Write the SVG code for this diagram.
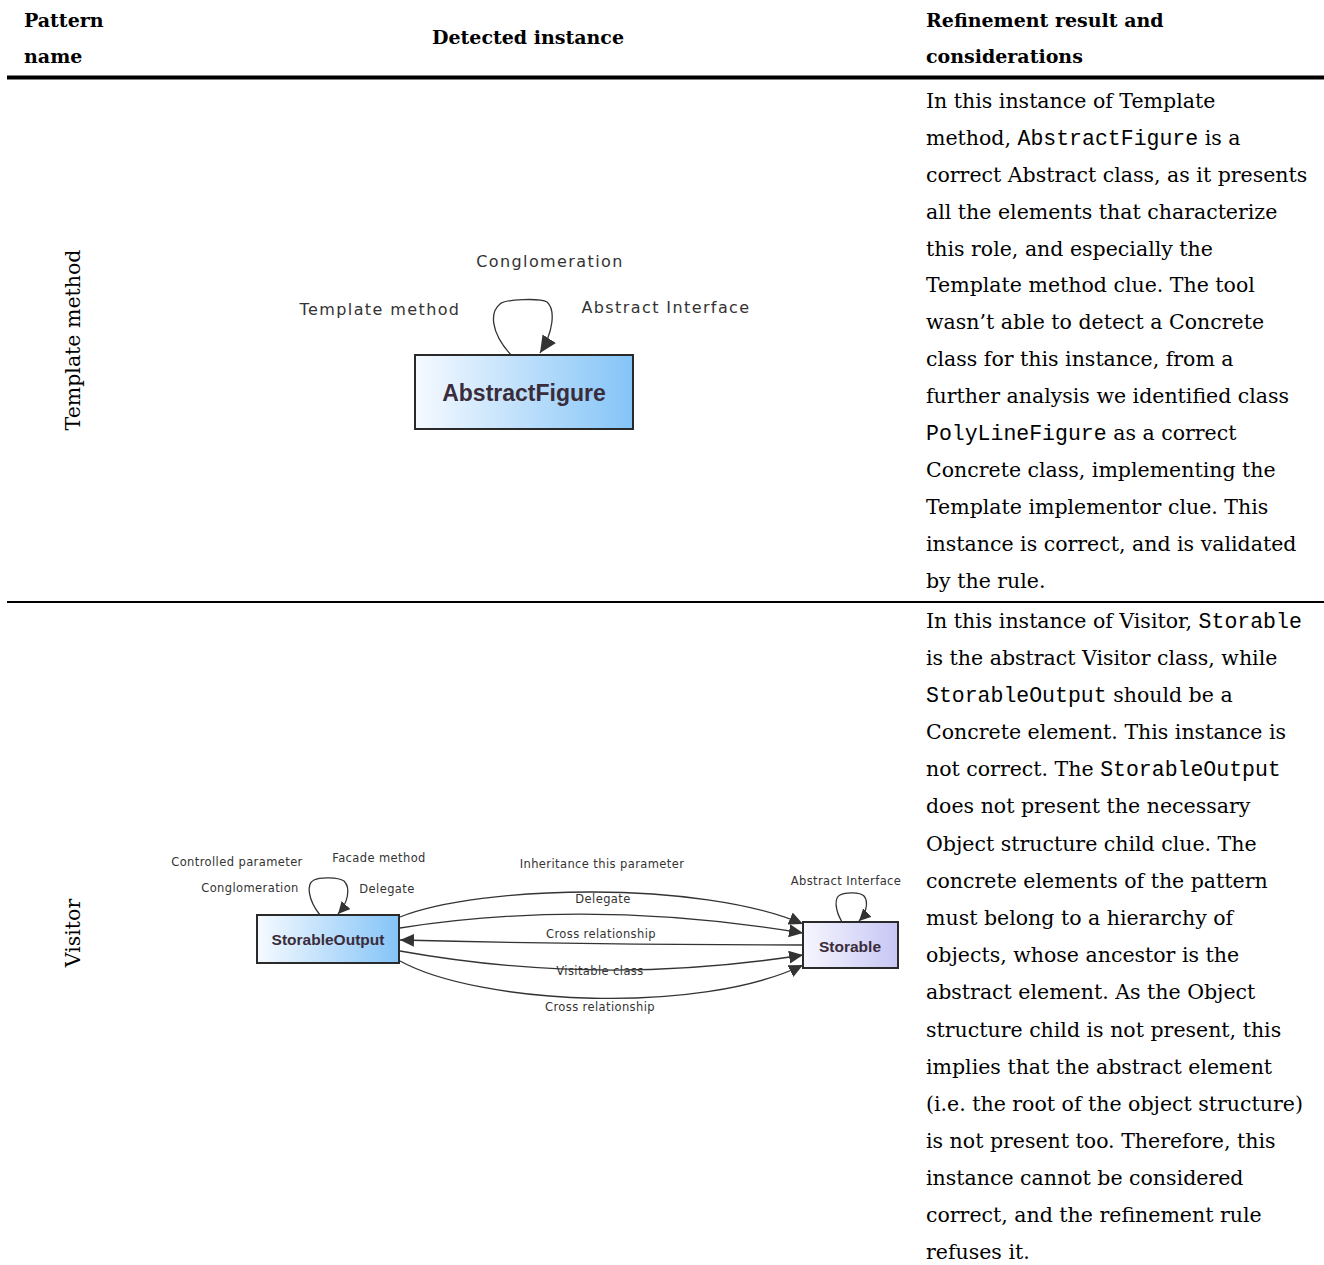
<svg xmlns="http://www.w3.org/2000/svg" width="1324" height="1265" viewBox="0 0 1324 1265">
  <defs>
    <linearGradient id="gBlue" x1="0" y1="0" x2="1" y2="0">
      <stop offset="0" stop-color="#f6faff"/>
      <stop offset="1" stop-color="#84c4f7"/>
    </linearGradient>
    <linearGradient id="gLav" x1="0" y1="0" x2="1" y2="0">
      <stop offset="0" stop-color="#f6f6ff"/>
      <stop offset="1" stop-color="#c6c6f4"/>
    </linearGradient>
    <marker id="arrowBig" markerUnits="userSpaceOnUse" markerWidth="18" markerHeight="16" refX="17" refY="8" orient="auto">
      <path d="M0,0 L17,8 L0,16 z" fill="#333"/>
    </marker>
    <marker id="arrow" markerUnits="userSpaceOnUse" markerWidth="15" markerHeight="13" refX="14" refY="6.5" orient="auto">
      <path d="M0,0 L14,6.5 L0,13 z" fill="#333"/>
    </marker>
    <marker id="arrowLoop" markerUnits="userSpaceOnUse" markerWidth="13" markerHeight="12" refX="12" refY="6" orient="auto">
      <path d="M0,0 L12,6 L0,12 z" fill="#333"/>
    </marker>
  </defs>
  <style>
    .hdr { font-family: "DejaVu Serif", "Liberation Serif", serif; font-weight: bold; font-size: 19px; fill: #000; }
    .body { font-family: "DejaVu Serif", "Liberation Serif", serif; font-size: 20.5px; fill: #000; }
    .mono { font-family: "Liberation Mono", "DejaVu Sans Mono", monospace; font-size: 21.5px; }
    .rowname { font-family: "DejaVu Serif", "Liberation Serif", serif; font-size: 20.5px; fill: #000; }
    .lblBig { font-family: "DejaVu Sans", "Liberation Sans", sans-serif; font-size: 16px; letter-spacing: 1.4px; fill: #333; text-anchor: middle; }
    .lbl { font-family: "DejaVu Sans", "Liberation Sans", sans-serif; font-size: 11.5px; letter-spacing: 0.4px; fill: #333; text-anchor: middle; }
    .edge { fill: none; stroke: #333; stroke-width: 1.3; }
    .box { stroke: #2a2a2a; stroke-width: 2; }
    .cls { font-family: "Liberation Sans", "Arial", sans-serif; font-weight: bold; fill: #3a2c3a; text-anchor: middle; }
  </style>

  <!-- table header -->
  <g id="header">
    <text class="hdr" x="24" y="27">Pattern</text>
    <text class="hdr" x="24" y="63">name</text>
    <text class="hdr" x="528" y="44" text-anchor="middle">Detected instance</text>
    <text class="hdr" x="926" y="27">Refinement result and</text>
    <text class="hdr" x="926" y="63">considerations</text>
  </g>
  <rect x="7" y="75.5" width="1317" height="4" fill="#000"/>
  <rect x="7" y="601" width="1317" height="2" fill="#000"/>

  <!-- row names -->
  <text class="rowname" text-anchor="middle" transform="translate(80,340) rotate(-90)">Template method</text>
  <text class="rowname" text-anchor="middle" transform="translate(80,933) rotate(-90)">Visitor</text>

  <!-- Template method diagram -->
  <g id="node-abstractfigure">
    <rect class="box" x="415" y="355" width="218" height="74" fill="url(#gBlue)"/>
    <text class="cls" x="524" y="401" font-size="23">AbstractFigure</text>
  </g>

  <!-- Visitor diagram -->
  <g id="node-storableoutput">
    <rect class="box" x="257" y="915" width="142" height="48" fill="url(#gBlue)"/>
    <text class="cls" x="328" y="945" font-size="15.5">StorableOutput</text>
  </g>
  <g id="node-storable">
    <rect class="box" x="803" y="922" width="95" height="46" fill="url(#gLav)"/>
    <text class="cls" x="850" y="952" font-size="15.5">Storable</text>
  </g>

  <g id="connectors">
    <!-- AbstractFigure self relation -->
    <path class="edge" d="M 511 355 C 490 332, 490 312, 500 304 C 506 299, 540 298, 547 302 C 556 310, 553 333, 540 353" stroke-width="1.6" marker-end="url(#arrowBig)"/>
    <!-- StorableOutput self relation -->
    <path class="edge" d="M 320 915 C 308 900, 306 884, 314 880 C 320 877, 338 877, 344 881 C 351 888, 348 903, 338 914" marker-end="url(#arrowLoop)"/>
    <!-- Storable self relation -->
    <path class="edge" d="M 842 922 C 835 910, 834 898, 840 895 C 846 892, 860 892, 864 896 C 869 902, 866 914, 859 921" marker-end="url(#arrowLoop)"/>
    <!-- StorableOutput <-> Storable -->
    <path class="edge" d="M 400 917 C 480 885, 700 880, 803 924" marker-end="url(#arrow)"/>
    <path class="edge" d="M 400 928 Q 590 898, 803 933" marker-end="url(#arrow)"/>
    <path class="edge" d="M 803 945 Q 600 945, 400 940" marker-end="url(#arrow)"/>
    <path class="edge" d="M 400 951 Q 600 987, 803 955" marker-end="url(#arrow)"/>
    <path class="edge" d="M 400 961 C 480 1005, 700 1015, 803 965" marker-end="url(#arrow)"/>
  </g>

  <g id="edge-labels">
    <text class="lblBig" x="550" y="267">Conglomeration</text>
    <text class="lblBig" x="380" y="315">Template method</text>
    <text class="lblBig" x="666" y="313">Abstract Interface</text>

    <text class="lbl" x="237" y="866">Controlled parameter</text>
    <text class="lbl" x="379" y="862">Facade method</text>
    <text class="lbl" x="250" y="892">Conglomeration</text>
    <text class="lbl" x="387" y="893">Delegate</text>
    <text class="lbl" x="602" y="868">Inheritance this parameter</text>
    <text class="lbl" x="603" y="903">Delegate</text>
    <text class="lbl" x="601" y="938">Cross relationship</text>
    <text class="lbl" x="600" y="975">Visitable class</text>
    <text class="lbl" x="600" y="1011">Cross relationship</text>
    <text class="lbl" x="846" y="885">Abstract Interface</text>
  </g>

  <!-- Template method considerations -->
  <g id="text-template">
    <text class="body" x="926" y="108">In this instance of Template</text>
    <text class="body" x="926" y="145">method, <tspan class="mono">AbstractFigure</tspan> is a</text>
    <text class="body" x="926" y="182">correct Abstract class, as it presents</text>
    <text class="body" x="926" y="219">all the elements that characterize</text>
    <text class="body" x="926" y="256">this role, and especially the</text>
    <text class="body" x="926" y="292">Template method clue. The tool</text>
    <text class="body" x="926" y="329">wasn’t able to detect a Concrete</text>
    <text class="body" x="926" y="366">class for this instance, from a</text>
    <text class="body" x="926" y="403">further analysis we identified class</text>
    <text class="body" x="926" y="440"><tspan class="mono">PolyLineFigure</tspan> as a correct</text>
    <text class="body" x="926" y="477">Concrete class, implementing the</text>
    <text class="body" x="926" y="514">Template implementor clue. This</text>
    <text class="body" x="926" y="551">instance is correct, and is validated</text>
    <text class="body" x="926" y="588">by the rule.</text>
  </g>

  <!-- Visitor considerations -->
  <g id="text-visitor">
    <text class="body" x="926" y="628">In this instance of Visitor, <tspan class="mono">Storable</tspan></text>
    <text class="body" x="926" y="665">is the abstract Visitor class, while</text>
    <text class="body" x="926" y="702"><tspan class="mono">StorableOutput</tspan> should be a</text>
    <text class="body" x="926" y="739">Concrete element. This instance is</text>
    <text class="body" x="926" y="776">not correct. The <tspan class="mono">StorableOutput</tspan></text>
    <text class="body" x="926" y="813">does not present the necessary</text>
    <text class="body" x="926" y="851">Object structure child clue. The</text>
    <text class="body" x="926" y="888">concrete elements of the pattern</text>
    <text class="body" x="926" y="925">must belong to a hierarchy of</text>
    <text class="body" x="926" y="962">objects, whose ancestor is the</text>
    <text class="body" x="926" y="999">abstract element. As the Object</text>
    <text class="body" x="926" y="1037">structure child is not present, this</text>
    <text class="body" x="926" y="1074">implies that the abstract element</text>
    <text class="body" x="926" y="1111">(i.e. the root of the object structure)</text>
    <text class="body" x="926" y="1148">is not present too. Therefore, this</text>
    <text class="body" x="926" y="1185">instance cannot be considered</text>
    <text class="body" x="926" y="1222">correct, and the refinement rule</text>
    <text class="body" x="926" y="1259">refuses it.</text>
  </g>
</svg>
